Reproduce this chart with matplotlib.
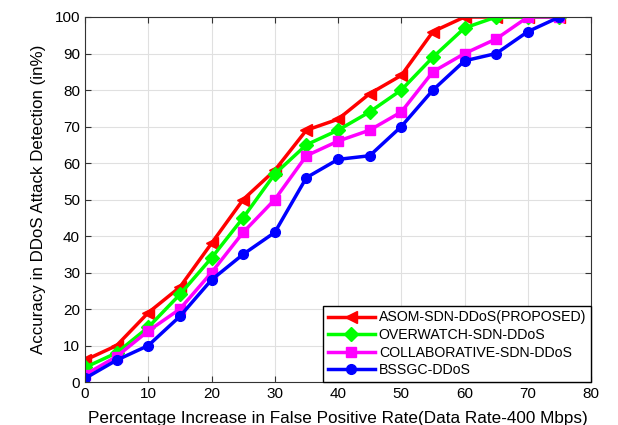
import matplotlib
matplotlib.use('Agg')
from matplotlib import pyplot as plt

plt.rcParams['font.family'] = ['Liberation Sans', 'DejaVu Sans']

x_rate = [0, 5, 10, 15, 20, 25, 30, 35, 40, 45, 50, 55, 60, 65, 70, 75]
asom = [6, 10, 19, 26, 38, 50, 58, 69, 72, 79, 84, 96, 100, 100, 100, 100]
overwatch = [4, 8, 15, 24, 34, 45, 57, 65, 69, 74, 80, 89, 97, 100, 100, 100]
collaborative = [2, 7, 14, 20, 30, 41, 50, 62, 66, 69, 74, 85, 90, 94, 100, 100]
bssgc = [1, 6, 10, 18, 28, 35, 41, 56, 61, 62, 70, 80, 88, 90, 96, 100]

fig = plt.figure(figsize=(6.18, 4.25), dpi=100)
ax = fig.add_axes([0.1375, 0.101, 0.819, 0.859])

ax.plot(x_rate, asom, color='red', marker='<', markersize=9, linewidth=2.5,
        label='ASOM-SDN-DDoS(PROPOSED)')
ax.plot(x_rate, overwatch, color='#00ff00', marker='D', markersize=7, linewidth=2.5,
        label='OVERWATCH-SDN-DDoS')
ax.plot(x_rate, collaborative, color='magenta', marker='s', markersize=7, linewidth=2.5,
        label='COLLABORATIVE-SDN-DDoS')
ax.plot(x_rate, bssgc, color='blue', marker='o', markersize=7, linewidth=2.5,
        label='BSSGC-DDoS')

ax.set_xlim(0, 80)
ax.set_ylim(0, 100)
ax.set_xticks(range(0, 81, 10))
ax.set_yticks(range(0, 101, 10))
ax.grid(True, color='#e0e0e0', linewidth=0.8)
ax.tick_params(direction='in', top=True, right=True, labelsize=11, length=4,
               color='#333333')
for s in ax.spines.values():
    s.set_color('#333333')

ax.set_xlabel('Percentage Increase in False Positive Rate(Data Rate-400 Mbps)',
              fontsize=12.3, labelpad=7)
ax.set_ylabel('Accuracy in DDoS Attack Detection (in%)', fontsize=12.2, labelpad=6)

leg = ax.legend(loc='lower right', fontsize=10.2, fancybox=False, framealpha=1,
                edgecolor='black', borderaxespad=0, handlelength=3.3,
                labelspacing=0.25, borderpad=0.35, handletextpad=0.3)
leg.get_frame().set_linewidth(1)

fig.savefig('out.png', dpi=100)
